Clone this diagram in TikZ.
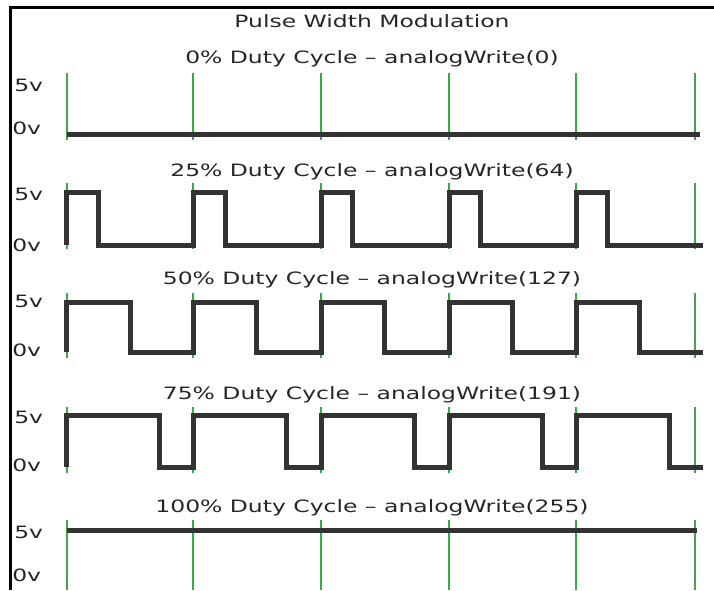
\documentclass[tikz,border=0pt]{standalone}
\usepackage{fontspec}
\setmainfont{DejaVu Sans}
\usetikzlibrary{positioning}
\definecolor{tracegray}{RGB}{51,51,51}
\definecolor{gridgreen}{RGB}{60,170,70}
\tikzstyle{caption} = [font=\fontsize{17}{20}\selectfont, text=black!85, xscale=1.38, inner sep=0pt]
\tikzstyle{level} = [caption, anchor=west]
\tikzstyle{trace} = [draw=tracegray, line width=5pt, line join=miter]
\tikzstyle{tick} = [draw=gridgreen, line width=2pt]
\tikzstyle{frame} = [draw=black, line width=3pt]

\begin{document}
\begin{tikzpicture}[x=1pt, y=1pt]
    \useasboundingbox (0,0) rectangle (714,590);
    % Frame
    \draw [frame] (714,582) -- (10,582) -- (10,0);
    % Place nodes
    \node [caption] (title) at (372,569) {Pulse Width Modulation};
    \node [caption] (duty0) at (372,531) {0\% Duty Cycle – analogWrite(0)};
    \node [caption] (duty25) at (372,418) {25\% Duty Cycle – analogWrite(64)};
    \node [caption] (duty50) at (372,310) {50\% Duty Cycle – analogWrite(127)};
    \node [caption] (duty75) at (372,195) {75\% Duty Cycle – analogWrite(191)};
    \node [caption] (duty100) at (372,82) {100\% Duty Cycle – analogWrite(255)};
    \foreach \n/\hi/\lo in {a/505/462, b/396/345, c/289/240, d/173/125, e/58/15} {
        \node [level] (high\n) at (14,\hi) {5v};
        \node [level] (low\n) at (12,\lo) {0v};
    }
    % Draw grid ticks
    \foreach \x in {66.7,193.3,321,449,576,695} {
        \foreach \top/\bot in {517/450, 407/341, 297/232, 183/117, 70/0}
            \draw [tick] (\x,\top) -- (\x,\bot);
    }
    % Draw traces
    \draw [trace] (66.7,455) -- (700,455);
    \foreach \w/\hi/\lo in {31.7/397/345, 63.5/288/238, 93/175/123} {
        \draw [trace] (66.7,\lo)
            \foreach \x in {66.7,193.3,321,449,576} {
                -- (\x,\lo) -- (\x,\hi) -- ({\x+\w},\hi) -- ({\x+\w},\lo)
            } -- (703,\lo);
    }
    \draw [trace] (66.7,60) -- (697,60);
\end{tikzpicture}
\end{document}
